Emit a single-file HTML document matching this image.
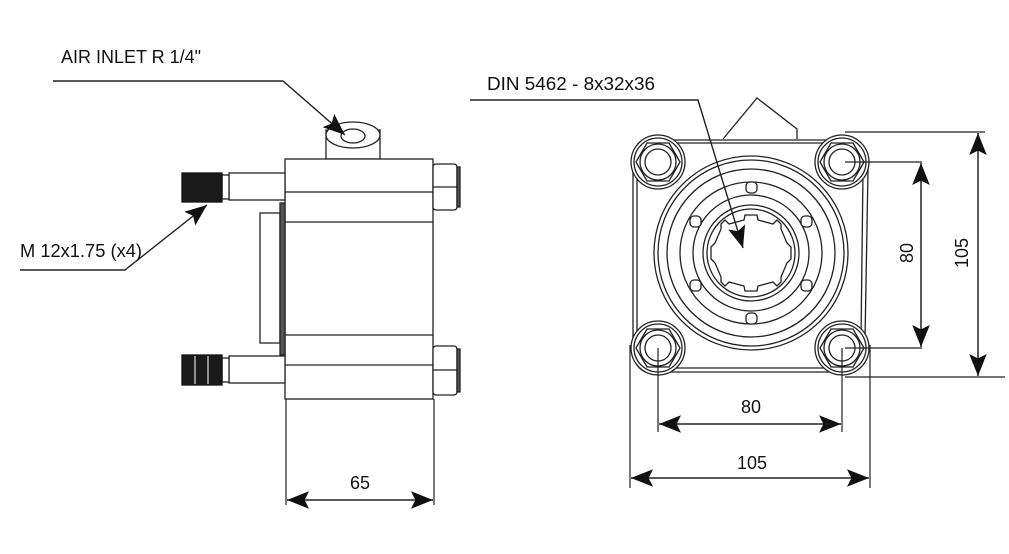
<!DOCTYPE html>
<html><head><meta charset="utf-8"><style>
html,body{margin:0;padding:0;background:#fff;}
svg{display:block;}
text{font-family:"Liberation Sans",sans-serif;fill:#111;}
</style></head><body>
<svg width="1009" height="554" viewBox="0 0 1009 554" xmlns="http://www.w3.org/2000/svg">
<defs>
<marker id="b" viewBox="0 0 10 10" refX="10" refY="5" markerWidth="22" markerHeight="22" markerUnits="userSpaceOnUse" orient="auto-start-reverse"><path d="M0,1 L10,5 L0,9 L2,5 z" fill="#111"/></marker>
</defs>
<g fill="none" stroke="#222" stroke-width="1.3">
<!-- LEFT VIEW -->
<rect x="326" y="130" width="54" height="29" fill="#fff"/>
<ellipse cx="353" cy="135" rx="27" ry="13" fill="#fff"/>
<ellipse cx="353" cy="136" rx="12" ry="7"/>
<rect x="285" y="159" width="148" height="240" fill="#fff"/>
<line x1="285" y1="192" x2="433" y2="192"/>
<line x1="285" y1="222" x2="433" y2="222"/>
<line x1="285" y1="335" x2="433" y2="335"/>
<line x1="285" y1="365" x2="433" y2="365"/>
<rect x="260" y="213" width="20" height="130" fill="#fff"/>
<rect x="280" y="203" width="5" height="152" fill="#555"/>
<rect x="229" y="173" width="56" height="27" fill="#fff"/>
<rect x="229" y="356" width="56" height="27" fill="#fff"/>
<rect x="222" y="175" width="7" height="24" fill="#fff"/>
<rect x="222" y="358" width="7" height="24" fill="#fff"/>
<rect x="182" y="173" width="40" height="29" fill="#1a1a1a" stroke="#111"/>
<rect x="182" y="355" width="40" height="30" fill="#1a1a1a" stroke="#111"/>
<line x1="195" y1="356" x2="195" y2="384" stroke="#ccc"/>
<line x1="208" y1="356" x2="208" y2="384" stroke="#ccc"/>
<rect x="433" y="164" width="24" height="46" rx="3" fill="#fff"/>
<line x1="433" y1="187" x2="457" y2="187"/>
<rect x="457" y="167" width="3" height="40" fill="#555"/>
<rect x="433" y="346" width="24" height="49" rx="3" fill="#fff"/>
<line x1="433" y1="370" x2="457" y2="370"/>
<rect x="457" y="349" width="3" height="43" fill="#555"/>
<!-- 65 dim -->
<line x1="286" y1="399" x2="286" y2="505" stroke-width="1.2"/>
<line x1="434" y1="399" x2="434" y2="505" stroke-width="1.2"/>
<line x1="287" y1="500" x2="433" y2="500" stroke-width="1.5" marker-start="url(#b)" marker-end="url(#b)"/>

<!-- RIGHT VIEW -->
<path d="M723,139 L757,98 L797,129 L797,139" fill="#fff"/>
<path d="M660,140 L835,140 Q868,130 868,170 L865,340 Q868,380 835,372 L665,372 Q630,380 633,340 L633,170 Q630,132 660,140 Z" fill="#fff"/>
<path d="M662,143 L833,143 Q864,136 863,172 L861,338 Q864,374 833,368 L667,368 Q636,374 637,338 L637,172 Q636,136 662,143 Z"/>
<g id="bolt">
<circle cx="658" cy="162" r="27" fill="#fff"/>
<circle cx="658" cy="162" r="24"/>
<polygon points="680,162 669,181 647,181 636,162 647,143 669,143" stroke-linejoin="round"/>
<circle cx="658" cy="162" r="18"/>
<circle cx="658" cy="162" r="13"/>
</g>
<use href="#bolt" x="184" y="0"/>
<use href="#bolt" x="0" y="186"/>
<use href="#bolt" x="184" y="186"/>
<circle cx="751" cy="253" r="97"/>
<circle cx="751" cy="253" r="93"/>
<circle cx="751" cy="253" r="84"/>
<circle cx="751" cy="253" r="71"/>
<circle cx="751" cy="253" r="58"/>
<circle cx="751" cy="253" r="48"/>
<circle cx="751" cy="253" r="44"/>
<polygon points="751,215 757,215 758,220 773,224 777,220 781,224 781,229 787,243 791,247 791,253 791,259 787,263 781,277 781,282 777,286 773,282 758,286 757,291 751,291 745,291 744,286 729,282 725,286 721,282 721,277 715,263 711,259 711,253 711,247 715,243 721,229 721,224 725,220 729,224 744,220 745,215" fill="#fff"/>
<g fill="#fff">
<rect x="746" y="182" width="11" height="11" rx="4"/>
<rect x="746" y="313" width="11" height="11" rx="4"/>
<rect x="690" y="216" width="11" height="11" rx="4"/>
<rect x="801" y="216" width="11" height="11" rx="4"/>
<rect x="690" y="280" width="11" height="11" rx="4"/>
<rect x="801" y="280" width="11" height="11" rx="4"/>
</g>
<!-- dims right -->
<line x1="845" y1="132" x2="985" y2="132" stroke-width="1.2"/>
<line x1="845" y1="377" x2="1005" y2="377" stroke-width="1.2"/>
<line x1="978" y1="133" x2="978" y2="376" stroke-width="1.5" marker-start="url(#b)" marker-end="url(#b)"/>
<line x1="845" y1="162" x2="922" y2="162" stroke-width="1.2"/>
<line x1="845" y1="348" x2="922" y2="348" stroke-width="1.2"/>
<line x1="921" y1="163" x2="921" y2="347" stroke-width="1.5" marker-start="url(#b)" marker-end="url(#b)"/>
<line x1="658" y1="348" x2="658" y2="432" stroke-width="1.2"/>
<line x1="842" y1="348" x2="842" y2="432" stroke-width="1.2"/>
<line x1="659" y1="424" x2="841" y2="424" stroke-width="1.5" marker-start="url(#b)" marker-end="url(#b)"/>
<line x1="630" y1="345" x2="630" y2="488" stroke-width="1.2"/>
<line x1="870" y1="345" x2="870" y2="488" stroke-width="1.2"/>
<line x1="631" y1="478" x2="869" y2="478" stroke-width="1.5" marker-start="url(#b)" marker-end="url(#b)"/>
<!-- leaders (on top) -->
<polyline points="53,81 283,81 345,135" stroke-width="1.4" marker-end="url(#b)"/>
<polyline points="20,270 125,270 207,205" stroke-width="1.4" marker-end="url(#b)"/>
<polyline points="470,100 698,100 743,248" stroke-width="1.4" marker-end="url(#b)"/>
</g>
<text x="61" y="63" font-size="18" textLength="140" lengthAdjust="spacingAndGlyphs">AIR INLET R 1/4"</text>
<text x="487" y="90" font-size="18" textLength="168" lengthAdjust="spacingAndGlyphs">DIN 5462 - 8x32x36</text>
<text x="20" y="257" font-size="18" textLength="122" lengthAdjust="spacingAndGlyphs">M 12x1.75 (x4)</text>
<text x="360" y="489" font-size="18" text-anchor="middle" textLength="20" lengthAdjust="spacingAndGlyphs">65</text>
<text x="751" y="413" font-size="18" text-anchor="middle" textLength="20" lengthAdjust="spacingAndGlyphs">80</text>
<text x="752" y="469" font-size="18" text-anchor="middle" textLength="30" lengthAdjust="spacingAndGlyphs">105</text>
<text transform="translate(913,253) rotate(-90)" font-size="18" text-anchor="middle" textLength="20" lengthAdjust="spacingAndGlyphs">80</text>
<text transform="translate(968,253) rotate(-90)" font-size="18" text-anchor="middle" textLength="30" lengthAdjust="spacingAndGlyphs">105</text>
</svg>
</body></html>
